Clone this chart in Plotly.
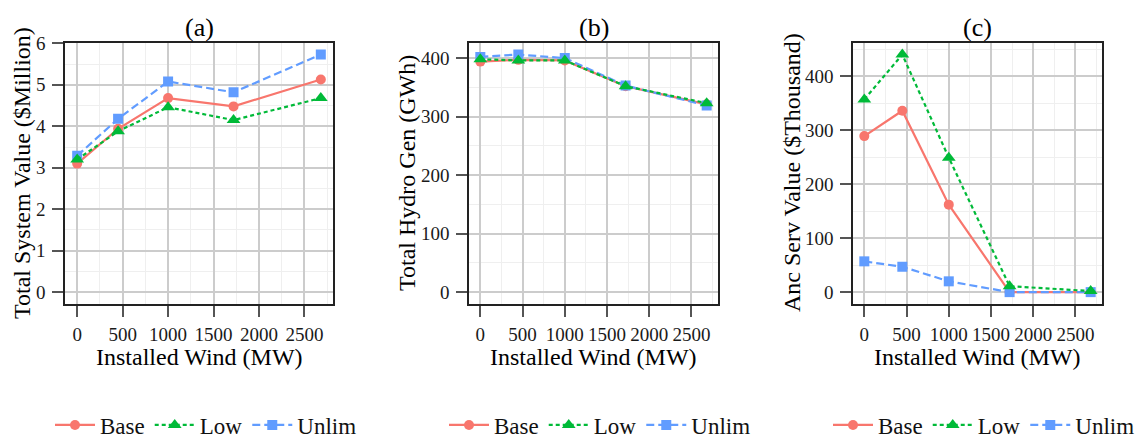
import plotly.graph_objects as go

# ---------------- data ----------------
wind = [0, 450, 1000, 1720, 2680]
series_names = ["Base", "Low", "Unlim"]

a_base = [3.10, 3.94, 4.68, 4.48, 5.13]
a_low = [3.20, 3.88, 4.46, 4.15, 4.68]
a_unlim = [3.29, 4.18, 5.08, 4.82, 5.73]

b_base = [394, 397, 396, 352, 321]
b_low = [398, 396, 396, 352, 323]
b_unlim = [402, 406, 400, 353, 319]

c_base = [289, 336, 162, 0, 0]
c_low = [357, 440, 249, 11, 2]
c_unlim = [57, 47, 20, 0, 0]

panel_titles = ["(a)", "(b)", "(c)"]
y_titles = ["Total System Value ($Million)", "Total Hydro Gen (GWh)", "Anc Serv Value ($Thousand)"]
x_title = "Installed Wind (MW)"
y_dticks = [1, 100, 100]

# ---------------- styling ----------------
W, H = 1142, 440
FONT = "Liberation Serif"
colors = {"Base": "#F8766D", "Low": "#00BA38", "Unlim": "#619CFF"}
symbols = {"Base": "circle", "Low": "triangle-up", "Unlim": "square"}
msizes = {"Base": 10, "Low": 12, "Unlim": 10}
dashes = {"Base": "solid", "Low": "4px,3px", "Unlim": "8px,4px"}
ranks = {"Base": 1, "Low": 2, "Unlim": 3}

panels_px = [(65, 333), (469, 718), (853, 1102)]
top_px, bot_px = 42.7, 304
ydom = [1 - bot_px / H, 1 - top_px / H]

panel_data = [
    {"Base": a_base, "Low": a_low, "Unlim": a_unlim},
    {"Base": b_base, "Low": b_low, "Unlim": b_unlim},
    {"Base": c_base, "Low": c_low, "Unlim": c_unlim},
]

fig = go.Figure()
fig.update_layout(
    template="none",
    width=W, height=H,
    margin=dict(l=0, r=0, t=0, b=0, pad=0, autoexpand=False),
    paper_bgcolor="white", plot_bgcolor="white",
    font=dict(family=FONT, size=19, color="#1a1a1a"),
)

xspan = max(wind) - min(wind)
xr = [min(wind) - 0.05 * xspan, max(wind) + 0.05 * xspan]
legend_x_px = [50, 444, 828]
ytitle_x = [22, 407, 792]

for i, data in enumerate(panel_data):
    k = "" if i == 0 else str(i + 1)
    xa, ya = "x" + k, "y" + k
    allv = [v for s in data.values() for v in s] + [0]
    lo, hi = min(allv), max(allv)
    sp = hi - lo
    yr = [lo - 0.05 * sp, hi + 0.05 * sp]
    x0, x1 = panels_px[i]
    common = dict(
        showline=True, mirror=True, linecolor="#222222", linewidth=1.6,
        showgrid=True, gridcolor="#cccccc", gridwidth=1.8, zeroline=False,
        ticks="outside", ticklen=11, tickwidth=1.8, tickcolor="#555555",
        tickfont=dict(family=FONT, size=19, color="#1a1a1a"),
    )
    fig.update_layout({
        "xaxis" + k: dict(
            domain=[x0 / W, x1 / W], anchor=ya, range=xr, tickmode="linear", tick0=0, dtick=500,
            ticklabelstandoff=1,
            minor=dict(dtick=250, showgrid=True, gridcolor="#efefef", gridwidth=1, ticks=""),
            **common),
        "yaxis" + k: dict(
            domain=ydom, anchor=xa, range=yr, tickmode="linear", tick0=0, dtick=y_dticks[i],
            ticklabelstandoff=3,
            minor=dict(dtick=y_dticks[i] / 2, showgrid=True, gridcolor="#efefef", gridwidth=1, ticks=""),
            **common),
    })
    leg = "legend" if i == 0 else "legend" + str(i + 1)
    fig.update_layout({leg: dict(
        orientation="h", x=legend_x_px[i] / W, xanchor="left", y=1 - 425 / H, yanchor="middle",
        font=dict(family=FONT, size=23, color="#111111"), bgcolor="rgba(0,0,0,0)",
        borderwidth=0, traceorder="normal", itemwidth=40)})
    for name in ["Base", "Unlim", "Low"]:
        fig.add_trace(go.Scatter(
            x=wind, y=data[name], name=name, mode="lines+markers",
            xaxis=xa, yaxis=ya, legend=leg, legendrank=ranks[name],
            line=dict(color=colors[name], width=2.2, dash=dashes[name]),
            marker=dict(symbol=symbols[name], size=msizes[name], color=colors[name], line=dict(width=0)),
        ))
    cx = (x0 + x1) / 2 / W
    fig.add_annotation(text=panel_titles[i], x=cx, y=1 - 27 / H, xref="paper", yref="paper",
                       xanchor="center", yanchor="middle", showarrow=False,
                       font=dict(family=FONT, size=26, color="black"))
    fig.add_annotation(text=x_title, x=cx, y=1 - 357 / H, xref="paper", yref="paper",
                       xanchor="center", yanchor="middle", showarrow=False,
                       font=dict(family=FONT, size=24, color="black"))
    fig.add_annotation(text=y_titles[i], x=ytitle_x[i] / W, y=1 - 173 / H, xref="paper", yref="paper",
                       xanchor="center", yanchor="middle", textangle=-90, showarrow=False,
                       font=dict(family=FONT, size=24, color="black"))

fig.write_html("out.html", config={"displayModeBar": False},
               post_script="document.body.style.margin='0px';")
